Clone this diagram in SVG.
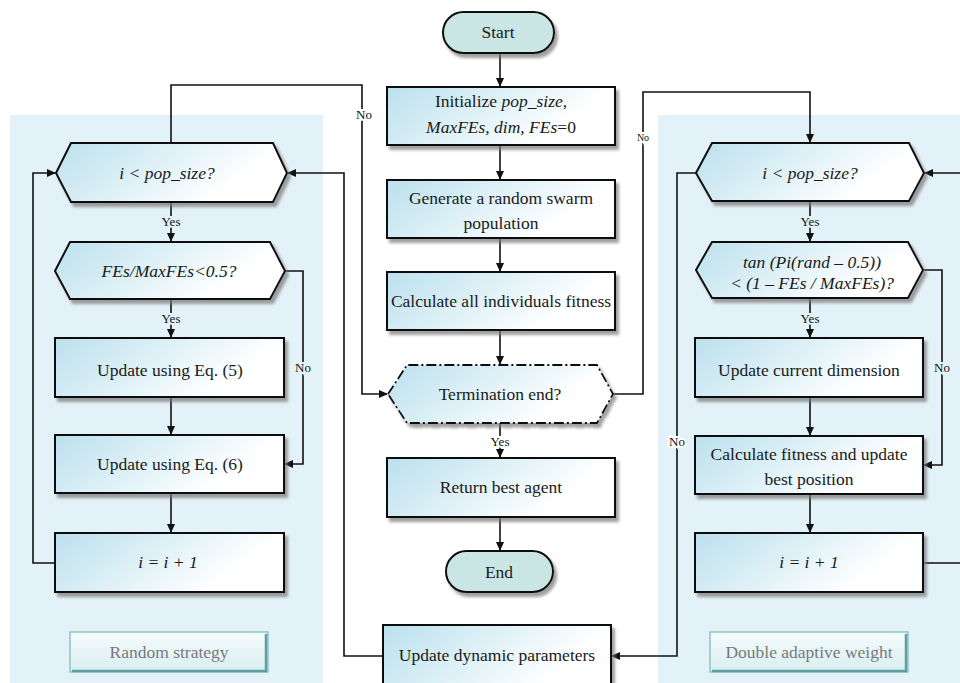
<svg xmlns="http://www.w3.org/2000/svg" width="960" height="683" viewBox="0 0 960 683">
<defs>
<linearGradient id="gBox" x1="0" y1="0" x2="1" y2="0.35">
<stop offset="0" stop-color="#bbe0ed"/>
<stop offset="0.55" stop-color="#e3f3f8"/>
<stop offset="0.9" stop-color="#ffffff"/>
</linearGradient>
<linearGradient id="gLabel" x1="0" y1="0" x2="0" y2="1">
<stop offset="0" stop-color="#f4fbfc"/>
<stop offset="1" stop-color="#d9eef0"/>
</linearGradient>
<filter id="sh" x="-10%" y="-10%" width="130%" height="140%">
<feDropShadow dx="3" dy="4" stdDeviation="1.5" flood-color="#777" flood-opacity="0.7"/>
</filter>
<marker id="arr" markerWidth="10" markerHeight="10" refX="8" refY="4" orient="auto" markerUnits="userSpaceOnUse">
<path d="M0,0 L9,4 L0,8 Z" fill="#111"/>
</marker>
</defs>
<style>
.panel{fill:#e3f1f8}
.box{fill:url(#gBox);stroke:#111;stroke-width:2;filter:url(#sh)}
.term{fill:#c9e6e4;stroke:#111;stroke-width:2;filter:url(#sh)}
.dash{fill:url(#gBox);stroke:#111;stroke-width:1.8;stroke-dasharray:10 3 2 3;filter:url(#sh)}
.t{font-family:"Liberation Serif","Times New Roman",serif;font-size:17.5px;fill:#1a1a1a;text-anchor:middle}
.i{font-style:italic}
.c{fill:none;stroke:#111;stroke-width:1.6}
.lbl{font-family:"Liberation Serif","Times New Roman",serif;font-size:13px;fill:#111;text-anchor:middle;paint-order:stroke;stroke-width:4}
.onw{stroke:#ffffff}
.onb{stroke:#e3f1f8}
.tag{fill:url(#gLabel);stroke:#8fc4c8;stroke-width:1.5}
.tagt{font-family:"Liberation Serif","Times New Roman",serif;font-size:17.5px;fill:#7a7a7a;text-anchor:middle}
</style>
<rect class="panel" x="10" y="115" width="313" height="568"/>
<rect class="panel" x="658" y="115" width="302" height="568"/>

<g id="connectors">
<path class="c" d="M500,53 V86" marker-end="url(#arr)"/>
<path class="c" d="M500,145 V179" marker-end="url(#arr)"/>
<path class="c" d="M500,238 V271" marker-end="url(#arr)"/>
<path class="c" d="M500,330 V364" marker-end="url(#arr)"/>
<path class="c" d="M500,423 V457" marker-end="url(#arr)"/>
<path class="c" d="M500,517 V550" marker-end="url(#arr)"/>
<path class="c" d="M171,143 V85 H362 V394 H387" marker-end="url(#arr)"/>
<path class="c" d="M613,394 H643 V92 H810 V142" marker-end="url(#arr)"/>
<path class="c" d="M383,656 H344 V173 H288" marker-end="url(#arr)"/>
<path class="c" d="M696,173 H677 V656 H612" marker-end="url(#arr)"/>
<path class="c" d="M171,202 V241" marker-end="url(#arr)"/>
<path class="c" d="M171,299 V337" marker-end="url(#arr)"/>
<path class="c" d="M171,397 V434" marker-end="url(#arr)"/>
<path class="c" d="M171,493 V532" marker-end="url(#arr)"/>
<path class="c" d="M55,563 H33 V173 H55" marker-end="url(#arr)"/>
<path class="c" d="M285,271 H303 V464 H285" marker-end="url(#arr)"/>
<path class="c" d="M810,201 V241" marker-end="url(#arr)"/>
<path class="c" d="M810,298 V337" marker-end="url(#arr)"/>
<path class="c" d="M810,397 V435" marker-end="url(#arr)"/>
<path class="c" d="M810,494 V532" marker-end="url(#arr)"/>
<path class="c" d="M923,563 H965 V173 H925" marker-end="url(#arr)"/>
<path class="c" d="M923,270 H942 V465 H924" marker-end="url(#arr)"/>
<text class="lbl onw" x="500" y="446">Yes</text>
<text class="lbl onw" x="364" y="119">No</text>
<text class="lbl onw" x="643" y="141" style="font-size:10px">No</text>
<text class="lbl onw" x="677" y="446">No</text>
<text class="lbl onb" x="171" y="226">Yes</text>
<text class="lbl onb" x="171" y="323">Yes</text>
<text class="lbl onb" x="303" y="372">No</text>
<text class="lbl onb" x="810" y="226">Yes</text>
<text class="lbl onb" x="810" y="323">Yes</text>
<text class="lbl onb" x="942" y="372">No</text>
</g>

<g id="start"><rect class="term" x="443" y="12" width="111" height="41" rx="20.5"/><text class="t" x="498" y="38">Start</text></g>
<g id="init"><rect class="box" x="387" y="87" width="228" height="58"/><text class="t" x="501" y="107">Initialize <tspan class="i">pop_size,</tspan></text><text class="t" x="501" y="133"><tspan class="i">MaxFEs, dim, FEs</tspan>=0</text></g>
<g id="generate"><rect class="box" x="387" y="180" width="228" height="58"/><text class="t" x="501" y="204">Generate a random swarm</text><text class="t" x="501" y="229">population</text></g>
<g id="calc"><rect class="box" x="387" y="272" width="228" height="58"/><text class="t" x="501" y="307">Calculate all individuals fitness</text></g>
<g id="termination"><polygon class="dash" points="388,394 407,365 597,365 613,394 597,423 407,423"/><text class="t" x="500" y="400">Termination end?</text></g>
<g id="return"><rect class="box" x="387" y="458" width="228" height="59"/><text class="t" x="501" y="493">Return best agent</text></g>
<g id="end"><rect class="term" x="446" y="551" width="107" height="41" rx="20.5"/><text class="t" x="499" y="578">End</text></g>
<g id="update-dynamic"><rect class="box" x="383" y="625" width="228" height="70"/><text class="t" x="497" y="661">Update dynamic parameters</text></g>

<g id="left-check"><polygon class="box" points="56,173 71,143 273,143 287,173 273,202 71,202"/><text class="t i" x="167" y="179">i &lt;  pop_size?</text></g>
<g id="left-fes"><polygon class="box" points="55,271 70,242 270,242 285,271 270,299 70,299"/><text class="t i" x="169" y="277">FEs/MaxFEs&lt;0.5?</text></g>
<g id="eq5"><rect class="box" x="55" y="338" width="229" height="59"/><text class="t" x="170" y="376">Update using Eq. (5)</text></g>
<g id="eq6"><rect class="box" x="55" y="435" width="229" height="58"/><text class="t" x="170" y="470">Update using Eq. (6)</text></g>
<g id="left-inc"><rect class="box" x="55" y="533" width="229" height="59"/><text class="t i" x="168" y="568">i = i + 1</text></g>
<g id="random-strategy"><rect class="tag" x="70" y="632" width="198" height="40"/><path d="M266,634 V671 H72" fill="none" stroke="#5f9ea3" stroke-width="2.5"/><text class="tagt" x="169" y="658">Random strategy</text></g>

<g id="right-check"><polygon class="box" points="696,173 712,143 909,143 924,173 909,201 712,201"/><text class="t i" x="810" y="179">i &lt;  pop_size?</text></g>
<g id="right-tan"><polygon class="box" points="696,270 712,242 908,242 923,270 908,298 712,298"/><text class="t i" x="812" y="268">tan (Pi(rand – 0.5))</text><text class="t i" x="812" y="289">&lt;  (1 – FEs / MaxFEs)?</text></g>
<g id="update-dim"><rect class="box" x="695" y="338" width="228" height="59"/><text class="t" x="809" y="376">Update current dimension</text></g>
<g id="calc-fit"><rect class="box" x="695" y="436" width="228" height="58"/><text class="t" x="809" y="460">Calculate fitness and update</text><text class="t" x="809" y="485">best position</text></g>
<g id="right-inc"><rect class="box" x="695" y="533" width="228" height="59"/><text class="t i" x="809" y="568">i = i + 1</text></g>
<g id="double-adaptive"><rect class="tag" x="710" y="632" width="198" height="40"/><path d="M906,634 V671 H712" fill="none" stroke="#5f9ea3" stroke-width="2.5"/><text class="tagt" x="809" y="658">Double adaptive weight</text></g>
</svg>
